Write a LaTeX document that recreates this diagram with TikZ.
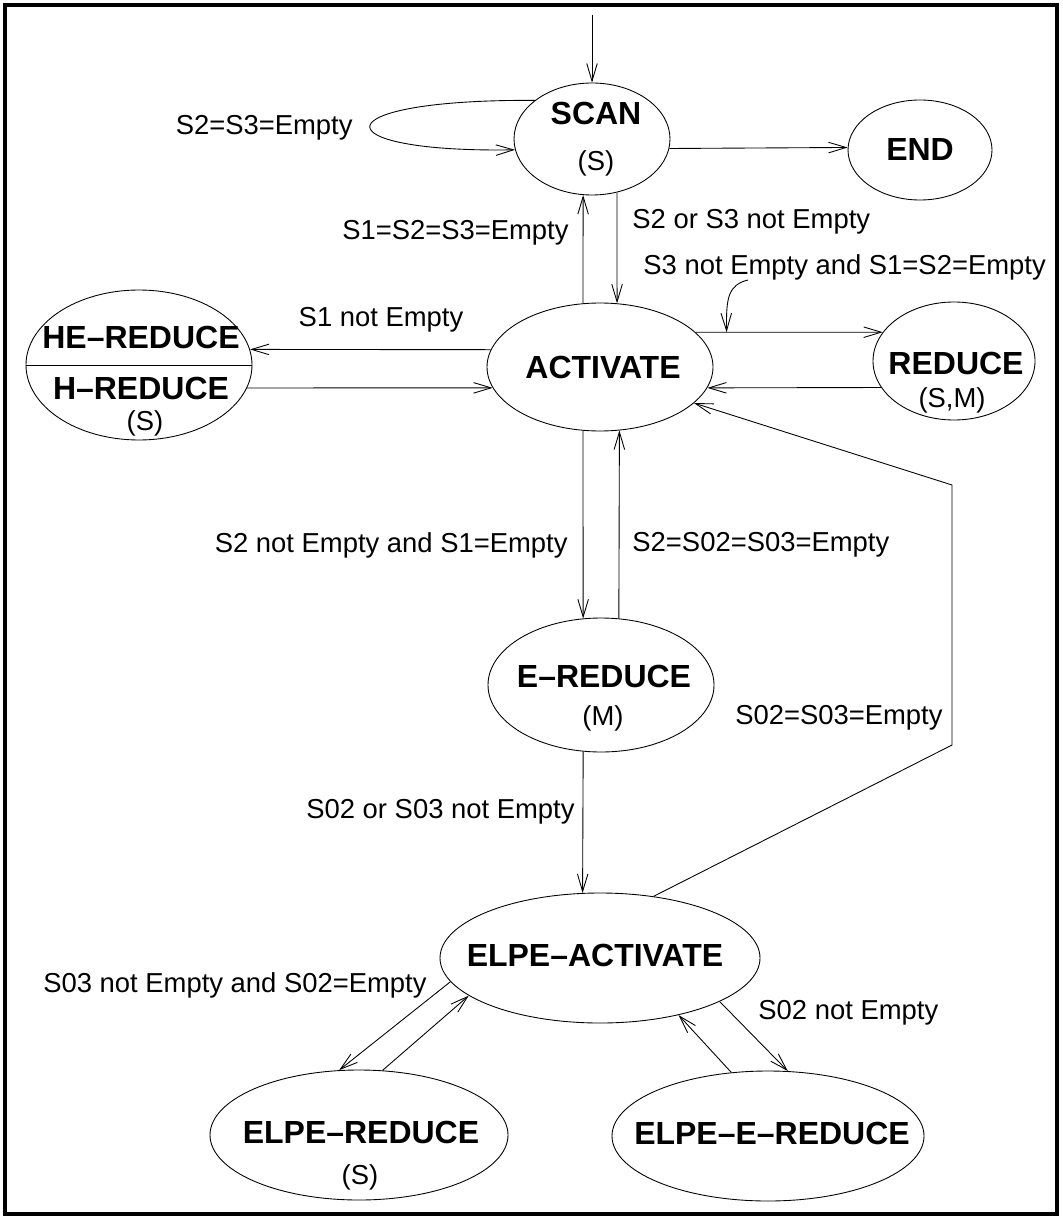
\documentclass[tikz,border=0pt]{standalone}
\usepackage{fontspec}
\setmainfont{Liberation Sans}
\usetikzlibrary{shapes.geometric,arrows.meta}

\begin{document}
\begin{tikzpicture}[
		yscale=-1,
		line width=0.5pt,
		>={Straight Barb[length=10pt,width=6pt]},
		state/.style={draw,ellipse,inner sep=0pt},
		title/.style={font=\bfseries\fontsize{18.2}{20}\selectfont,inner sep=0pt},
		sub/.style={font=\fontsize{15.6}{18}\selectfont,inner sep=0pt},
		cond/.style={font=\fontsize{15.6}{18}\selectfont,inner sep=0pt}
	]

		\useasboundingbox (0,0) rectangle (21.24,24.4);
		\draw[line width=2pt] (0.1,0.1) rectangle (21.14,24.28);

		% States
		\node[state, minimum width=3.12cm, minimum height=2.24cm] (scan) at (11.84, 2.78) {};
		\node[state, minimum width=2.88cm, minimum height=2cm] (end) at (18.4, 3) {};
		\node[state, minimum width=4.52cm, minimum height=2.56cm] (act) at (12, 7.34) {};
		\node[state, minimum width=4.52cm, minimum height=3cm] (he) at (2.78, 7.3) {};
		\node[state, minimum width=3.24cm, minimum height=2.36cm] (red) at (19.08, 7.22) {};
		\node[state, minimum width=4.52cm, minimum height=2.68cm] (ered) at (12.02, 13.7) {};
		\node[state, minimum width=6.4cm, minimum height=2.6cm] (eact) at (12, 19.16) {};
		\node[state, minimum width=5.96cm, minimum height=2.6cm] (elred) at (7.18, 22.7) {};
		\node[state, minimum width=6.24cm, minimum height=2.6cm] (eered) at (15.36, 22.72) {};
		\draw (he.west) -- (he.east);

		% State names
		\node[title] (scan-t) at (11.92, 2.26) {SCAN};
		\node[sub] (scan-s) at (11.92, 3.26) {(S)};
		\node[title] (end-t) at (18.4, 3) {END};
		\node[title] (act-t) at (12.06, 7.34) {ACTIVATE};
		\node[title] (he-t) at (2.82, 6.74) {HE–REDUCE};
		\node[title] (h-t) at (2.82, 7.76) {H–REDUCE};
		\node[sub] (he-s) at (2.9, 8.46) {(S)};
		\node[title] (red-t) at (19.12, 7.26) {REDUCE};
		\node[sub] (red-s) at (19.04, 8.0) {(S,M)};
		\node[title] (ered-t) at (12.08, 13.52) {E–REDUCE};
		\node[sub] (ered-s) at (12.06, 14.36) {(M)};
		\node[title] (eact-t) at (11.9, 19.1) {ELPE–ACTIVATE};
		\node[title] (elred-t) at (7.22, 22.64) {ELPE–REDUCE};
		\node[sub] (elred-s) at (7.2, 23.54) {(S)};
		\node[title] (eered-t) at (15.44, 22.66) {ELPE–E–REDUCE};

		% Conditions
		\node[cond, anchor=east] (c-loop) at (7.06, 2.56) {S2=S3=Empty};
		\node[cond, anchor=east] (c-up) at (11.38, 4.66) {S1=S2=S3=Empty};
		\node[cond, anchor=west] (c-down) at (12.64, 4.44) {S2 or S3 not Empty};
		\node[cond, anchor=west] (c-red) at (12.86, 5.34) {S3 not Empty and S1=S2=Empty};
		\node[cond] (c-he) at (7.62, 6.4) {S1 not Empty};
		\node[cond, anchor=east] (c-ered) at (11.36, 10.9) {S2 not Empty and S1=Empty};
		\node[cond, anchor=west] (c-eback) at (12.64, 10.9) {S2=S02=S03=Empty};
		\node[cond, anchor=east] (c-eact) at (11.5, 16.24) {S02 or S03 not Empty};
		\node[cond, anchor=east] (c-back) at (18.86, 14.36) {S02=S03=Empty};
		\node[cond, anchor=east] (c-elred) at (8.54, 19.7) {S03 not Empty and S02=Empty};
		\node[cond, anchor=west] (c-eered) at (15.16, 20.26) {S02 not Empty};

		% Edges
		\coordinate (start) at (11.84, 0.3);
		\draw[->] (start) -- (scan);
		\draw[->] (scan.146) .. controls (6.37, 1.98) and (6.37, 3.06) .. (scan.188);
		\draw[->] (scan.-7) -- (end.178);
		\draw[->] (scan.-65) -- (act.75);
		\draw[->] (act.105) -- (scan.-99);
		\draw[->] (act.20) -- coordinate[pos=0.166] (pin) (red.158);
		\draw[->] (red.200) -- (act.-11);
		\draw[->] (act.171) -- (he.8);
		\draw[->] (he.348.5) -- (act.-169);
		\draw[->] (act.-105) -- (ered.105);
		\draw[->] (ered.75) -- (act.-73);
		\draw[->] (ered.-105) -- (eact.105);
		\coordinate (bend1) at (19.04, 14.9);
		\coordinate (bend2) at (19.04, 9.7);
		\draw[->] (eact.49) -- (bend1) -- (bend2) -- (act.-21);
		\draw[->] (eact.189) -- (elred.107);
		\draw[->] (elred.70) -- (eact.196);
		\draw[->] (eact.-20) -- (eered.73);
		\draw[->] (eered.120) -- (eact.-36);
		\coordinate (hook) at (14.96, 5.6);
		\draw[->] (hook) .. controls (14.56, 5.7) and (14.52, 5.96) .. (pin);
	\end{tikzpicture}
\end{document}
